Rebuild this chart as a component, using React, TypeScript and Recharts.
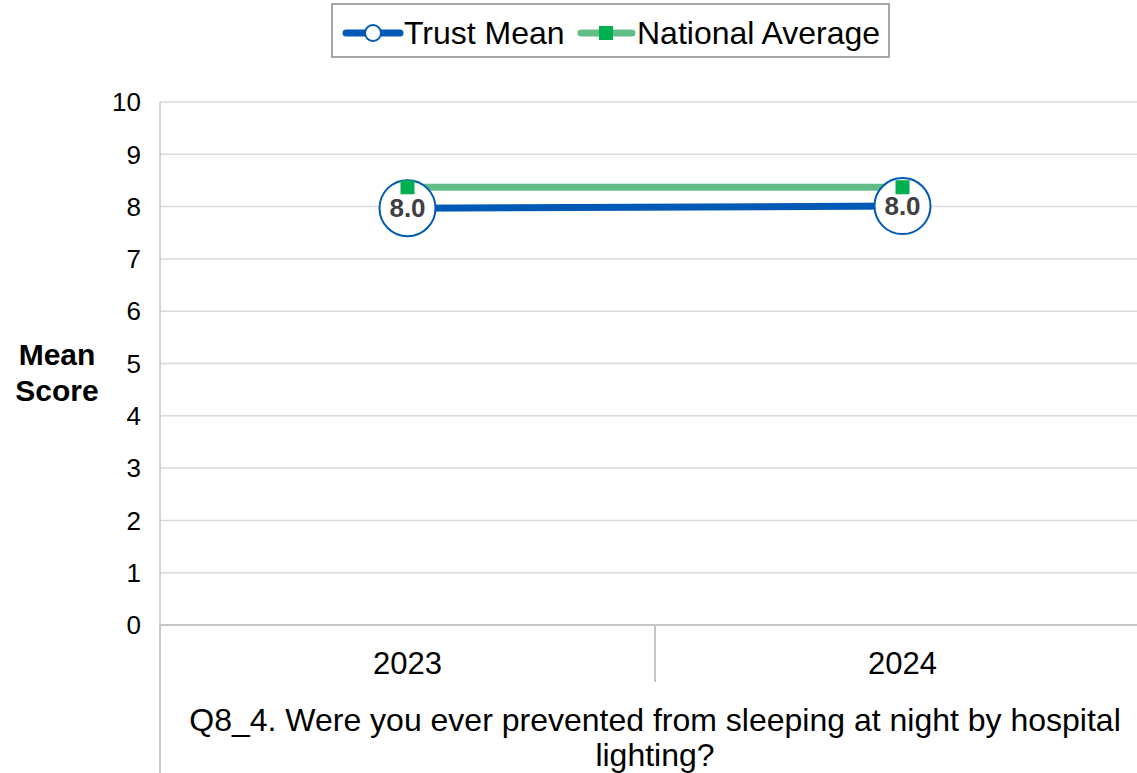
import { LineChart, Line, XAxis, YAxis, CartesianGrid, LabelList } from 'recharts';

const years = ['2023', '2024'];
const trustMean = [7.97, 8.01];
const nationalAverage = [8.37, 8.37];
const yTicks = [0, 1, 2, 3, 4, 5, 6, 7, 8, 9, 10];
const question = ['Q8_4. Were you ever prevented from sleeping at night by hospital', 'lighting?'];

const FONT = '"Liberation Sans", Arial, sans-serif';
const BLUE = '#0059b5';
const GREEN_LINE = '#62be86';
const GREEN_MARK = '#00b050';
const AXIS = '#c6c6c6';

const CHART_W = 1150;
const CHART_H = 773;
const Y_AXIS_W = 160;
const X_AXIS_H = 148;
const HALF_BAND = (CHART_W - Y_AXIS_W) / years.length / 2;

const data = years.map((year, i) => ({
  year,
  trust: trustMean[i],
  national: nationalAverage[i],
}));

const YearTick = (props: any) => {
  const { x, y, payload, index } = props;
  return (
    <g>
      <line
        x1={x - HALF_BAND}
        x2={x - HALF_BAND}
        y1={y}
        y2={index === 0 ? y + X_AXIS_H : y + 57}
        stroke={AXIS}
        strokeWidth={2}
      />
      <text x={x} y={y + 38} textAnchor="middle" dominantBaseline="central" fontSize={31} fill="#000" fontFamily={FONT}>
        {payload.value}
      </text>
    </g>
  );
};

const QuestionLabel = (props: any) => {
  const { viewBox } = props;
  const cx = viewBox.x + viewBox.width / 2;
  return (
    <text textAnchor="middle" fontSize={32} fill="#000" fontFamily={FONT}>
      {question.map((line, i) => (
        <tspan key={i} x={cx} y={viewBox.y + 106 + i * 35}>
          {line}
        </tspan>
      ))}
    </text>
  );
};

const MeanScoreLabel = () => (
  <text textAnchor="middle" fontSize={30} fontWeight="bold" fill="#000" fontFamily={FONT}>
    <tspan x={57} y={365}>Mean</tspan>
    <tspan x={57} y={401}>Score</tspan>
  </text>
);

const ValueLabel = (props: any) => {
  const { x, y, value } = props;
  return (
    <text x={x} y={y} textAnchor="middle" dominantBaseline="central" fontSize={26} fontWeight="bold" fill="#404040" fontFamily={FONT}>
      {Number(value).toFixed(1)}
    </text>
  );
};

const Legend = () => (
  <div
    style={{
      position: 'absolute',
      left: 331,
      top: 3,
      width: 555,
      height: 51,
      border: '2px solid #a6a6a6',
      background: '#fff',
    }}
  >
    <svg width={555} height={51} style={{ position: 'absolute', left: 0, top: 0 }}>
      <line x1={13} x2={67} y1={28} y2={28} stroke={BLUE} strokeWidth={7} strokeLinecap="round" />
      <circle cx={40} cy={28} r={8} fill="#fff" stroke={BLUE} strokeWidth={2} />
      <text x={71} y={28} dominantBaseline="central" fontSize={32} fontFamily={FONT}>Trust Mean</text>
      <line x1={248} x2={299} y1={28} y2={28} stroke={GREEN_LINE} strokeWidth={7} strokeLinecap="round" />
      <rect x={266} y={21} width={14} height={14} fill={GREEN_MARK} />
      <text x={304} y={28} dominantBaseline="central" fontSize={32} fontFamily={FONT}>National Average</text>
    </svg>
  </div>
);

export default function App() {
  return (
    <div style={{ position: 'fixed', left: 0, top: 0, width: 1137, height: 773, overflow: 'hidden', background: '#fff' }}>
      <LineChart width={CHART_W} height={CHART_H} data={data} margin={{ top: 102, right: 0, left: 0, bottom: 0 }}>
        <CartesianGrid vertical={false} stroke="#d9d9d9" strokeWidth={1.5} />
        <XAxis
          dataKey="year"
          scale="band"
          height={X_AXIS_H}
          axisLine={{ stroke: AXIS, strokeWidth: 2 }}
          tickLine={false}
          tickSize={0}
          tickMargin={0}
          tick={<YearTick />}
          interval={0}
          label={<QuestionLabel />}
        />
        <YAxis
          domain={[0, 10]}
          ticks={yTicks}
          width={Y_AXIS_W}
          axisLine={{ stroke: AXIS, strokeWidth: 1.5 }}
          tickLine={false}
          tickSize={0}
          tickMargin={19}
          tick={{ fontSize: 26, fill: '#000', fontFamily: FONT }}
          label={<MeanScoreLabel />}
        />
        <Line
          dataKey="trust"
          stroke={BLUE}
          strokeWidth={7}
          isAnimationActive={false}
          dot={{ r: 28, fill: '#fff', stroke: BLUE, strokeWidth: 2 }}
        >
          <LabelList dataKey="trust" content={<ValueLabel />} />
        </Line>
        <Line
          dataKey="national"
          stroke={GREEN_LINE}
          strokeWidth={7}
          isAnimationActive={false}
          dot={(p: any) => <rect key={p.index} x={p.cx - 7} y={p.cy - 7} width={14} height={14} fill={GREEN_MARK} />}
        />
      </LineChart>
      <Legend />
    </div>
  );
}
